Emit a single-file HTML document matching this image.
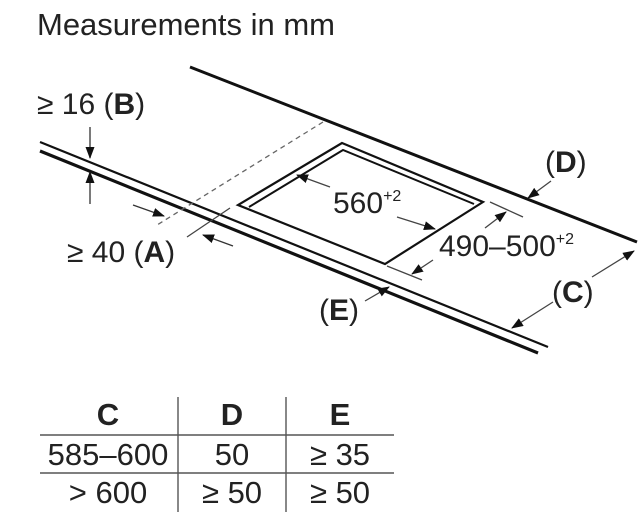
<!DOCTYPE html>
<html><head><style>
html,body{margin:0;padding:0;background:#fff;}
svg{display:block;}
text{font-family:"Liberation Sans",sans-serif;fill:#222;}
</style></head><body>
<svg width="640" height="527" viewBox="0 0 640 527" xmlns="http://www.w3.org/2000/svg">
<defs>
<marker id="a" markerWidth="12" markerHeight="9" refX="11" refY="4.5" orient="auto" markerUnits="userSpaceOnUse">
<path d="M0,0 L12,4.5 L0,9 Z" fill="#111"/></marker>
</defs>
<text x="37" y="35" font-size="31" textLength="298" lengthAdjust="spacingAndGlyphs">Measurements in mm</text>
<line x1="190" y1="67" x2="637" y2="242" stroke="#111" stroke-width="3"/>
<line x1="40" y1="142" x2="548" y2="347" stroke="#111" stroke-width="2.2"/>
<line x1="40" y1="151" x2="538" y2="353" stroke="#111" stroke-width="3.2"/>
<line x1="323" y1="122" x2="157" y2="225" stroke="#666" stroke-width="1.3" stroke-dasharray="5,4"/>
<line x1="230" y1="208" x2="187" y2="237" stroke="#444" stroke-width="1.3"/>
<polygon points="342,143 483,202 385,264 238,205" fill="none" stroke="#111" stroke-width="2.2"/>
<polyline points="249,207 343,150 474,204" fill="none" stroke="#111" stroke-width="2"/>
<line x1="90" y1="127" x2="90" y2="158" stroke="#333" stroke-width="1.3" marker-end="url(#a)"/>
<line x1="90" y1="204" x2="90" y2="172" stroke="#333" stroke-width="1.3" marker-end="url(#a)"/>
<line x1="133" y1="205" x2="164" y2="216" stroke="#333" stroke-width="1.3" marker-end="url(#a)"/>
<line x1="233" y1="246" x2="203" y2="235" stroke="#333" stroke-width="1.3" marker-end="url(#a)"/>
<line x1="330" y1="187" x2="297" y2="175" stroke="#444" stroke-width="1.3" marker-end="url(#a)"/>
<line x1="397" y1="217" x2="435" y2="229" stroke="#444" stroke-width="1.3" marker-end="url(#a)"/>
<line x1="490" y1="202" x2="523" y2="217" stroke="#444" stroke-width="1.3"/>
<line x1="387" y1="266" x2="422" y2="280" stroke="#444" stroke-width="1.3"/>
<line x1="485" y1="228" x2="506" y2="212" stroke="#444" stroke-width="1.3" marker-end="url(#a)"/>
<line x1="433" y1="260" x2="412" y2="274" stroke="#444" stroke-width="1.3" marker-end="url(#a)"/>
<line x1="551" y1="181" x2="528" y2="198" stroke="#444" stroke-width="1.3" marker-end="url(#a)"/>
<line x1="592" y1="277" x2="634" y2="251" stroke="#444" stroke-width="1.3" marker-end="url(#a)"/>
<line x1="553" y1="302" x2="512" y2="328" stroke="#444" stroke-width="1.3" marker-end="url(#a)"/>
<line x1="365" y1="301" x2="389" y2="287" stroke="#444" stroke-width="1.3" marker-end="url(#a)"/>
<text x="37" y="114" font-size="30">≥ 16 (<tspan font-weight="bold">B</tspan>)</text>
<text x="67" y="262" font-size="30">≥ 40 (<tspan font-weight="bold">A</tspan>)</text>
<text x="333" y="213" font-size="30">560<tspan font-size="16" dy="-12">+2</tspan></text>
<text x="439" y="256" font-size="30">490–500<tspan font-size="16" dy="-12">+2</tspan></text>
<text x="545" y="172" font-size="30">(<tspan font-weight="bold">D</tspan>)</text>
<text x="552" y="302" font-size="30">(<tspan font-weight="bold">C</tspan>)</text>
<text x="319" y="320" font-size="30">(<tspan font-weight="bold">E</tspan>)</text>
<line x1="178" y1="397" x2="178" y2="512" stroke="#555" stroke-width="1.4"/>
<line x1="286" y1="397" x2="286" y2="512" stroke="#555" stroke-width="1.4"/>
<line x1="40" y1="435" x2="394" y2="435" stroke="#555" stroke-width="1.4"/>
<line x1="40" y1="473" x2="394" y2="473" stroke="#555" stroke-width="1.4"/>
<g font-size="31" text-anchor="middle">
<text x="108" y="425" font-weight="bold">C</text>
<text x="232" y="425" font-weight="bold">D</text>
<text x="340" y="425" font-weight="bold">E</text>
<text x="108" y="465">585–600</text>
<text x="232" y="465">50</text>
<text x="340" y="465">≥ 35</text>
<text x="108" y="503">&gt; 600</text>
<text x="232" y="503">≥ 50</text>
<text x="340" y="503">≥ 50</text>
</g>
</svg>
</body></html>
